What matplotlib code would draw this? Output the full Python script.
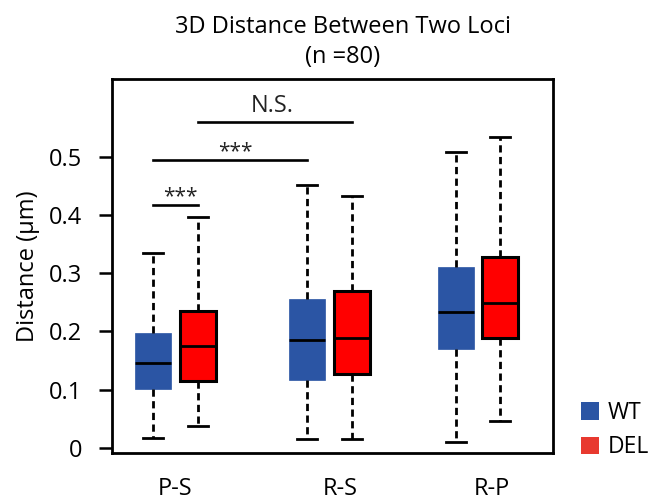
import matplotlib
matplotlib.use("Agg")
from matplotlib import pyplot as plt
from matplotlib.patches import Patch

plt.rcParams['font.family'] = ['Open Sans', 'DejaVu Sans']

groups = ['P-S', 'R-S', 'R-P']

# five-number summaries (um)
wt_min = [0.017, 0.015, 0.010]
wt_q1 = [0.102, 0.117, 0.169]
wt_med = [0.146, 0.186, 0.233]
wt_q3 = [0.197, 0.256, 0.310]
wt_max = [0.335, 0.451, 0.507]

del_min = [0.038, 0.015, 0.046]
del_q1 = [0.115, 0.127, 0.189]
del_med = [0.175, 0.189, 0.248]
del_q3 = [0.235, 0.270, 0.328]
del_max = [0.396, 0.432, 0.533]

# significance brackets: (left box, right box, height, label)
sig_bars = [
    (('WT', 0), ('DEL', 0), 0.417, '***'),
    (('WT', 0), ('WT', 1), 0.494, '***'),
    (('DEL', 0), ('DEL', 1), 0.559, 'N.S.'),
]

WT_COLOR = '#2B55A4'
DEL_COLOR = '#FF0000'
DEL_LEG = '#E8392F'

# x positions in units of 100 px
wt_pos = [0.41, 1.95, 3.44]
del_pos = [0.86, 2.40, 3.88]
label_pos = [0.63, 2.28, 3.80]
pos = {'WT': wt_pos, 'DEL': del_pos}


def stats(mins, q1, med, q3, maxs):
    return [dict(whislo=a, q1=b, med=c, q3=d, whishi=e, fliers=[])
            for a, b, c, d, e in zip(mins, q1, med, q3, maxs)]


fig = plt.figure(figsize=(6.51, 5.01), dpi=100)
ax = fig.add_axes([112 / 651, 1 - 453 / 501, 441 / 651, 374 / 501])

whisk = dict(color='black', linewidth=2.0, linestyle=(0, (2.6, 1.6)))
cap = dict(color='black', linewidth=2.0)
med = dict(color='black', linewidth=2.0)

ax.bxp(stats(wt_min, wt_q1, wt_med, wt_q3, wt_max), positions=wt_pos,
       widths=0.36, patch_artist=True, showfliers=False,
       boxprops=dict(facecolor=WT_COLOR, edgecolor=WT_COLOR, linewidth=0.5),
       whiskerprops=whisk, capprops=cap, medianprops=med, capwidths=0.2)
ax.bxp(stats(del_min, del_q1, del_med, del_q3, del_max), positions=del_pos,
       widths=0.36, patch_artist=True, showfliers=False,
       boxprops=dict(facecolor=DEL_COLOR, edgecolor='black', linewidth=2.2),
       whiskerprops=whisk, capprops=cap, medianprops=med, capwidths=0.2)

for (g1, i1), (g2, i2), h, lab in sig_bars:
    x1, x2 = pos[g1][i1], pos[g2][i2]
    ax.plot([x1, x2], [h, h], color='black', linewidth=1.9)
    if lab == '***':
        ax.text((x1 + x2) / 2 + 0.05, h - 0.004, lab, ha='center', va='bottom',
                fontsize=15, color='#222222')
    else:
        ax.text((x1 + x2) / 2 - 0.03, h + 0.007, lab, ha='center', va='bottom',
                fontsize=17, color='#222222')

ax.set_xlim(0, 4.41)
ax.set_ylim(-0.0086, 0.633)
ax.set_yticks([0, 0.1, 0.2, 0.3, 0.4, 0.5])
ax.set_yticklabels(['0', '0.1', '0.2', '0.3', '0.4', '0.5'])
ax.set_xticks(label_pos)
ax.set_xticklabels(groups)
ax.tick_params(axis='y', length=9.5, width=1.8, pad=12, labelsize=17)
ax.tick_params(axis='x', length=0, pad=17, labelsize=17)
for s in ax.spines.values():
    s.set_linewidth(2.0)
ax.set_ylabel('Distance (\u03bcm)', fontsize=17, labelpad=6)

fig.text(343 / 651, 1 - 27 / 501, '3D Distance Between Two Loci', ha='center',
         va='center', fontsize=17)
fig.text(343 / 651, 1 - 57 / 501, '(n =80)', ha='center', va='center', fontsize=17)

handles = [Patch(facecolor=WT_COLOR, label='WT'), Patch(facecolor=DEL_LEG, label='DEL')]
fig.legend(handles=handles, loc='upper left', bbox_to_anchor=(565 / 651, 1 - 385 / 501),
           frameon=False, fontsize=16.5, handlelength=0.8, handleheight=0.8,
           handletextpad=0.35, labelspacing=0.45, borderpad=0.2)

fig.savefig('out.png', dpi=100)
